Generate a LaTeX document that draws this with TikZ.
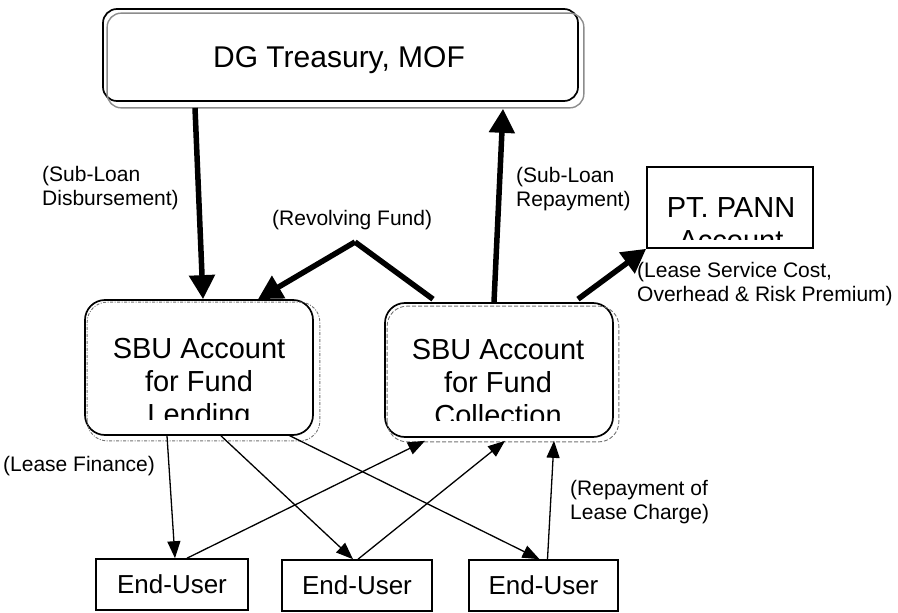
\documentclass[tikz,border=0pt]{standalone}
\usepackage{fontspec}
\setmainfont{Liberation Sans}
\usetikzlibrary{arrows.meta,calc}
\newcommand{\mystack}[2][l]{\begin{tabular}[t]{@{}#1@{}}#2\end{tabular}}
\begin{document}
\begin{tikzpicture}[x=1pt,y=-1pt,
  blackbox/.style={draw=black, line width=1.7pt, rounded corners=#1, inner sep=0pt},
  plainbox/.style={draw=black, line width=1.6pt, inner sep=0pt},
  graybox/.style={draw=black!45, line width=1.4pt},
  grayrim/.style={draw=black!55, line width=0.9pt},
  boxtext/.style={anchor=base, inner sep=0pt, font=\fontsize{29}{33}\selectfont},
  eutext/.style={anchor=base, inner sep=0pt, font=\fontsize{26}{30}\selectfont},
  lbl/.style={anchor=base west, inner sep=0pt, font=\fontsize{21}{24.5}\selectfont},
  thick arrow/.style={line width=5.5pt, -{Triangle[length=24pt,width=25pt]}},
  thick line/.style={line width=5.5pt},
  thin arrow/.style={line width=1.3pt, -{Triangle[length=17pt,width=13pt]}}
]
\useasboundingbox (0,0) rectangle (898,613);

% DG Treasury
\node[blackbox=14pt, minimum width=475pt, minimum height=92pt] (dg) at (340.5,55) {};
\draw[graybox, rounded corners=14pt] ([xshift=5pt,yshift=-6pt]dg.south west) rectangle ([xshift=5pt,yshift=-5pt]dg.north east);
\node[boxtext, font=\fontsize{30}{34}\selectfont] (dgtext) at (339,67) {DG Treasury, MOF};

% PT PANN
\node[plainbox, minimum width=166pt, minimum height=81pt] (pann) at (730,207.5) {};
\begin{scope}
  \clip ([xshift=1pt]pann.north west) rectangle ([yshift=9pt]pann.south east);
  \node[boxtext] (panntext) at (731,217) {\mystack[c]{PT. PANN\\Account}};
\end{scope}

% SBU Lending
\node[blackbox=20pt, minimum width=228pt, minimum height=135pt] (lend) at (199,367.5) {};
\draw[grayrim, rounded corners=20pt, dash pattern=on 3pt off 1.5pt on 1pt off 1.5pt]
  ([xshift=3pt,yshift=-5pt]lend.south west) rectangle ([xshift=6pt,yshift=-3pt]lend.north east);
\begin{scope}
  \clip (lend.north west) rectangle ([yshift=16pt]lend.south east);
  \node[boxtext] (lendtext) at (199,358) {\mystack[c]{SBU Account\\for Fund\\Lending}};
\end{scope}

% SBU Collection
\node[blackbox=20pt, minimum width=228pt, minimum height=134pt] (coll) at (499,370) {};
\draw[grayrim, rounded corners=20pt, dash pattern=on 4pt off 2pt]
  ([xshift=3pt,yshift=-4pt]coll.south west) rectangle ([xshift=5pt,yshift=-4pt]coll.north east);
\begin{scope}
  \clip (coll.north west) rectangle ([yshift=17pt]coll.south east);
  \node[boxtext] (colltext) at (498,359) {\mystack[c]{SBU Account\\for Fund\\Collection}};
\end{scope}

% End users
\node[plainbox, minimum width=152pt, minimum height=51pt] (eu1) at (172,584.5) {};
\node[plainbox, minimum width=150pt, minimum height=51pt] (eu2) at (357,585.5) {};
\node[plainbox, minimum width=149pt, minimum height=51pt] (eu3) at (543.5,585.5) {};
\node[eutext] (eu1text) at (eu1.center) [yshift=-9pt] {End-User};
\node[eutext] (eu2text) at (eu2.center) [yshift=-9pt] {End-User};
\node[eutext] (eu3text) at (eu3.center) [yshift=-9pt] {End-User};

% thick connectors
\draw[thick arrow] ([xshift=-145.5pt,yshift=-6pt]dg.south) -- ([xshift=4pt]lend.north);
\draw[thick arrow] ([xshift=-5pt]coll.north) -- ([xshift=162.5pt,yshift=-7pt]dg.south);
\coordinate (rev) at (355,242);
\draw[thick line] ([xshift=-66pt,yshift=3pt]coll.north) -- (rev);
\draw[thick arrow] (rev) -- ([xshift=59pt]lend.north);
\draw[thick arrow] ([xshift=79pt,yshift=3pt]coll.north) -- (pann.south west);

% thin connectors
\draw[thin arrow] ([xshift=-32pt]lend.south) -- ([xshift=3pt]eu1.north);
\draw[thin arrow] ([xshift=22pt]lend.south) -- ([xshift=-4pt]eu2.north);
\draw[thin arrow] ([xshift=89pt,yshift=1pt]lend.south) -- ([xshift=-4pt]eu3.north);
\draw[thin arrow] ([xshift=15pt]eu1.north) -- ([xshift=-74pt,yshift=-3pt]coll.south);
\draw[thin arrow] ([xshift=1pt]eu2.north) -- ([xshift=6pt,yshift=-3pt]coll.south);
\draw[thin arrow] ([xshift=4pt]eu3.north) -- ([xshift=55pt,yshift=-3pt]coll.south);

% labels
\node[lbl] (l1) at (42,181) {\mystack{(Sub-Loan\\Disbursement)}};
\node[lbl] (l2) at (516,182) {\mystack{(Sub-Loan\\Repayment)}};
\node[lbl] (l3) at (272,225) {(Revolving Fund)};
\node[lbl] (l4) at (637,277) {\mystack{(Lease Service Cost,\\Overhead \& Risk Premium)}};
\node[lbl] (l5) at (3,471) {(Lease Finance)};
\node[lbl] (l6) at (570,495) {\mystack{(Repayment of\\Lease Charge)}};
\end{tikzpicture}
\end{document}
